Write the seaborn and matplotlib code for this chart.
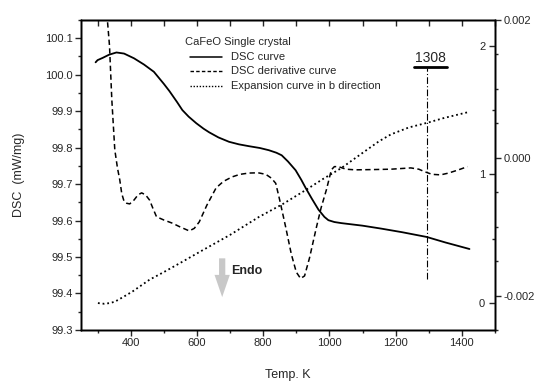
import matplotlib
matplotlib.use("Agg")
import matplotlib.pyplot as plt
import seaborn as sns
from matplotlib.ticker import MultipleLocator

# --- data ---
dsc_T = [294, 300, 315, 335, 357, 380, 410, 440, 470, 500, 517, 540, 556, 575,
         598, 620, 637, 665, 697, 727, 757, 790, 817, 840, 856, 875, 898, 915,
         928, 947, 967, 985, 997, 1015, 1036, 1100, 1156, 1220, 1294, 1350, 1423]
dsc_val = [100.034, 100.040, 100.046, 100.055, 100.061, 100.058, 100.045, 100.028,
           100.008, 99.975, 99.955, 99.925, 99.903, 99.885, 99.867, 99.852, 99.842,
           99.828, 99.816, 99.809, 99.804, 99.799, 99.793, 99.786, 99.779, 99.762,
           99.738, 99.712, 99.690, 99.660, 99.630, 99.610, 99.601, 99.596, 99.593,
           99.586, 99.578, 99.568, 99.555, 99.540, 99.522]

deriv_T = [328, 336, 343, 352, 360, 367, 373, 380, 388, 397, 410, 422, 433, 445,
           457, 468, 478, 500, 526, 550, 577, 592, 607, 630, 658, 680, 706, 730,
           757, 785, 808, 825, 838, 850, 868, 885, 900, 913, 925, 940, 961, 975,
           991, 1006, 1015, 1027, 1050, 1078, 1130, 1186, 1246, 1270, 1288, 1310,
           1336, 1360, 1390, 1417]
deriv_val = [2.25, 2.0, 1.58, 1.19, 1.05, 0.957, 0.85, 0.79, 0.775, 0.77, 0.80,
             0.84, 0.856, 0.84, 0.80, 0.73, 0.67, 0.645, 0.62, 0.59, 0.56, 0.58,
             0.63, 0.76, 0.895, 0.945, 0.98, 1.0, 1.01, 1.012, 1.0, 0.97, 0.93,
             0.80, 0.59, 0.38, 0.24, 0.19, 0.21, 0.35, 0.59, 0.74, 0.88, 1.035,
             1.06, 1.06, 1.04, 1.035, 1.037, 1.04, 1.05, 1.04, 1.02, 1.0, 0.996,
             1.01, 1.035, 1.06]

exp_T = [301, 320, 337, 352, 367, 385, 406, 430, 457, 500, 556, 607, 700, 787,
         860, 928, 980, 1036, 1100, 1150, 1186, 1240, 1297, 1348, 1417]
exp_val = [-0.00211, -0.00212, -0.00211, -0.00209, -0.00205, -0.00200, -0.00194,
           -0.00186, -0.00177, -0.00166, -0.00151, -0.00137, -0.00112, -0.00086,
           -0.00067, -0.00047, -0.00031, -0.00015, 0.00007, 0.00024, 0.00034,
           0.00044, 0.00051, 0.00058, 0.00066]

marker_T = 1294
marker_label = "1308"

sns.set_style("ticks")
plt.rcParams["font.family"] = ["Liberation Sans", "DejaVu Sans"]

fig = plt.figure(figsize=(5.38, 3.85), dpi=100)
ax = fig.add_axes([0.1506, 0.143, 0.7694, 0.805])
ax2 = ax.twinx()
ax3 = ax.twinx()

sns.lineplot(x=dsc_T, y=dsc_val, ax=ax, color="black", linewidth=1.3,
             legend=False)
sns.lineplot(x=deriv_T, y=deriv_val, ax=ax2, color="black", linewidth=1.1,
             linestyle=(0, (3.5, 2.2)), legend=False)
sns.lineplot(x=exp_T, y=exp_val, ax=ax3, color="black", linewidth=1.3,
             linestyle=(0, (1, 1.6)), legend=False)

ax.set_xlim(250, 1500)
ax.set_ylim(99.3, 100.15)
ax2.set_ylim(-0.21, 2.2)
ax3.set_ylim(-0.0025, 0.002)

for a in (ax, ax2, ax3):
    for s in a.spines.values():
        s.set_linewidth(1.0)
        s.set_color("black")

ax.xaxis.set_major_locator(MultipleLocator(200))
ax.xaxis.set_minor_locator(MultipleLocator(100))
ax.yaxis.set_major_locator(MultipleLocator(0.1))
ax.yaxis.set_minor_locator(MultipleLocator(0.05))
ax.yaxis.set_major_formatter(plt.FormatStrFormatter("%.1f"))
ax.tick_params(axis="both", which="major", direction="out", length=4, labelsize=8,
               width=1.0, pad=2)
ax.tick_params(axis="both", which="minor", direction="out", length=2.5, width=1.0)
ax.tick_params(axis="x", which="both", top=False)

# inner right axis: ticks and labels inside
ax2.yaxis.set_major_locator(MultipleLocator(1))
ax2.yaxis.set_minor_locator(MultipleLocator(0.5))
ax2.tick_params(axis="y", which="major", direction="in", length=4, labelsize=8,
                pad=-7, width=1.0)
ax2.tick_params(axis="y", which="minor", direction="in", length=2.5, width=1.0)
for lab in ax2.get_yticklabels():
    lab.set_horizontalalignment("right")

ax3.yaxis.set_major_locator(MultipleLocator(0.002))
ax3.yaxis.set_minor_locator(MultipleLocator(0.0005))
ax3.yaxis.set_major_formatter(plt.FormatStrFormatter("%.3f"))
ax3.tick_params(axis="y", which="major", direction="out", length=4, labelsize=8,
                pad=2, width=1.0)
ax3.tick_params(axis="y", which="minor", direction="out", length=2.5, width=1.0)

# top ticks pointing inward
top = ax.secondary_xaxis("top")
top.xaxis.set_major_locator(MultipleLocator(100))
top.tick_params(axis="x", direction="in", length=4, labeltop=False, width=1.0)

ax.set_xlabel("Temp. K", fontsize=9, labelpad=15)
ax.set_ylabel("DSC  (mW/mg)", fontsize=9, labelpad=14)

# vertical marker line
ax.plot([marker_T, marker_T], [99.44, 100.018], color="black", linewidth=0.8,
        linestyle=(0, (6, 2, 1, 2)))
ax.text(1304, 100.026, marker_label, fontsize=10, ha="center", va="bottom")
ax.plot([1255, 1354], [100.021, 100.021], color="black", linewidth=2)

# legend
ax.text(0.251, 0.929, "CaFeO Single crystal", transform=ax.transAxes,
        fontsize=8, va="center", ha="left")
leg_items = [("DSC curve", "-", 0.881), ("DSC derivative curve", (0, (2.5, 1.6)), 0.834),
             ("Expansion curve in b direction", (0, (1, 1.2)), 0.788)]
for txt, ls, yy in leg_items:
    ax.plot([0.263, 0.341], [yy, yy], transform=ax.transAxes, color="black",
            linewidth=1.1 if ls == "-" else 1.0, linestyle=ls)
    ax.text(0.362, yy, txt, transform=ax.transAxes, fontsize=8, va="center", ha="left")

# endo arrow
ax.annotate("", xy=(0.341, 0.097), xytext=(0.341, 0.24), xycoords="axes fraction",
            arrowprops=dict(arrowstyle="simple,head_width=1.1,head_length=1.6,tail_width=0.45",
                            color="#c8c8c8", lw=0))
ax.text(0.363, 0.19, "Endo", transform=ax.transAxes, fontsize=9, fontweight="bold",
        va="center", ha="left")

fig.savefig("out.png", dpi=100)
